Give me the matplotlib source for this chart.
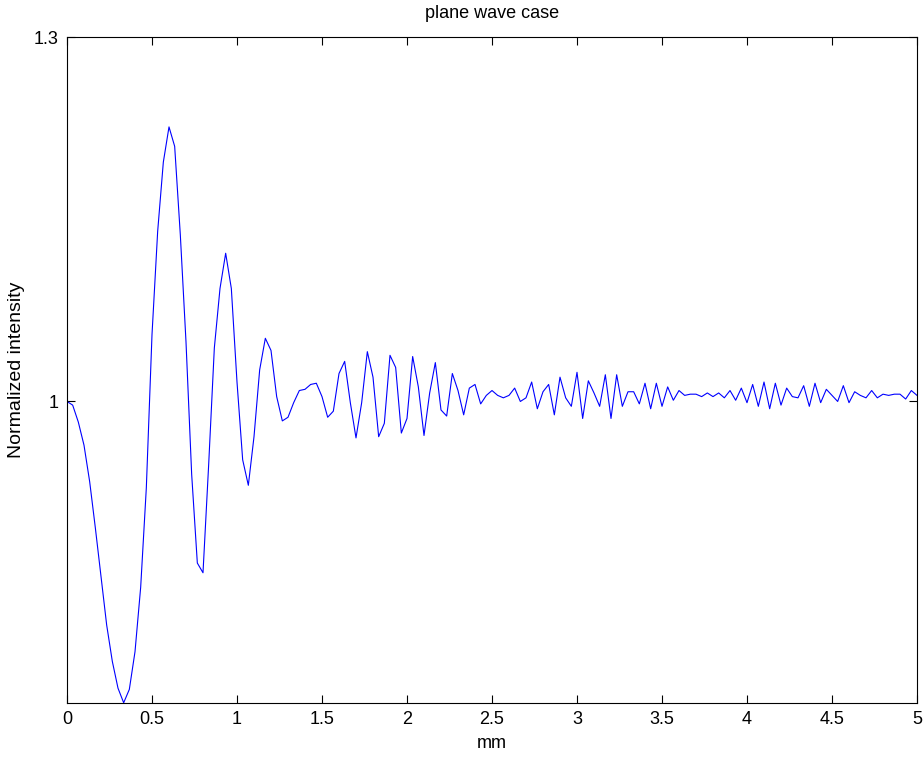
import matplotlib
matplotlib.use("Agg")
import matplotlib.pyplot as plt
import numpy as np

plt.rcParams['font.family'] = ['Liberation Sans', 'DejaVu Sans']

# sample positions (mm) and intensity
x_mm = np.linspace(0, 5, 151)
intensity = [
    1.000, 0.997, 0.983, 0.964, 0.934, 0.896, 0.856, 0.816, 0.786, 0.764,
    0.752, 0.763, 0.794, 0.847, 0.929, 1.055, 1.140, 1.197, 1.226, 1.210,
    1.137, 1.049, 0.940, 0.867, 0.859, 0.948, 1.044, 1.093, 1.122, 1.093,
    1.016, 0.952, 0.931, 0.971, 1.026, 1.052, 1.042, 1.004, 0.984, 0.987,
    0.999, 1.009, 1.010, 1.014, 1.015, 1.004, 0.987, 0.992, 1.023, 1.033,
    0.999, 0.970, 0.999, 1.041, 1.020, 0.971, 0.982, 1.038, 1.028, 0.974,
    0.986, 1.037, 1.012, 0.972, 1.007, 1.032, 0.993, 0.988, 1.023, 1.009,
    0.989, 1.011, 1.014, 0.998, 1.005, 1.009, 1.005, 1.003, 1.005, 1.011,
    1.000, 1.003, 1.016, 0.994, 1.008, 1.014, 0.989, 1.020, 1.003, 0.996,
    1.024, 0.986, 1.017, 1.007, 0.996, 1.022, 0.986, 1.022, 0.996, 1.008,
    1.008, 0.998, 1.015, 0.994, 1.015, 0.996, 1.012, 1.001, 1.009, 1.005,
    1.006, 1.006, 1.004, 1.007, 1.004, 1.007, 1.003, 1.009, 1.001, 1.011,
    0.999, 1.014, 0.996, 1.016, 0.994, 1.015, 0.997, 1.011, 1.004, 1.003,
    1.013, 0.996, 1.015, 0.999, 1.010, 1.005, 1.000, 1.013, 0.999, 1.008,
    1.005, 1.003, 1.009, 1.003, 1.006, 1.005, 1.006, 1.006, 1.002, 1.009,
    1.005,
]
x_ticks = [0, 0.5, 1, 1.5, 2, 2.5, 3, 3.5, 4, 4.5, 5]
x_ticklabels = ['0', '0.5', '1', '1.5', '2', '2.5', '3', '3.5', '4', '4.5', '5']
y_ticks = [1, 1.3]
y_ticklabels = ['1', '1.3']

fig = plt.figure(figsize=(9.24, 7.6), dpi=100)
ax = fig.add_axes([67 / 924, 1 - 703 / 760, 850 / 924, 666 / 760])

ax.plot(x_mm, intensity, color='#0000ff', linewidth=0.8)

ax.set_xlim(0, 5)
ax.set_ylim(0.7518, 1.3)
ax.set_xticks(x_ticks)
ax.set_xticklabels(x_ticklabels)
ax.set_yticks(y_ticks)
ax.set_yticklabels(y_ticklabels)
ax.tick_params(direction='in', length=6, width=0.8, top=True, right=True,
               labelsize=13, pad=6)
for s in ax.spines.values():
    s.set_linewidth(0.8)

ax.set_xlabel('mm', fontsize=13, labelpad=5)
ax.set_ylabel('Normalized intensity', fontsize=14, labelpad=6)
ax.set_title('plane wave case', fontsize=13, pad=14)

fig.savefig('out.png', dpi=100)
